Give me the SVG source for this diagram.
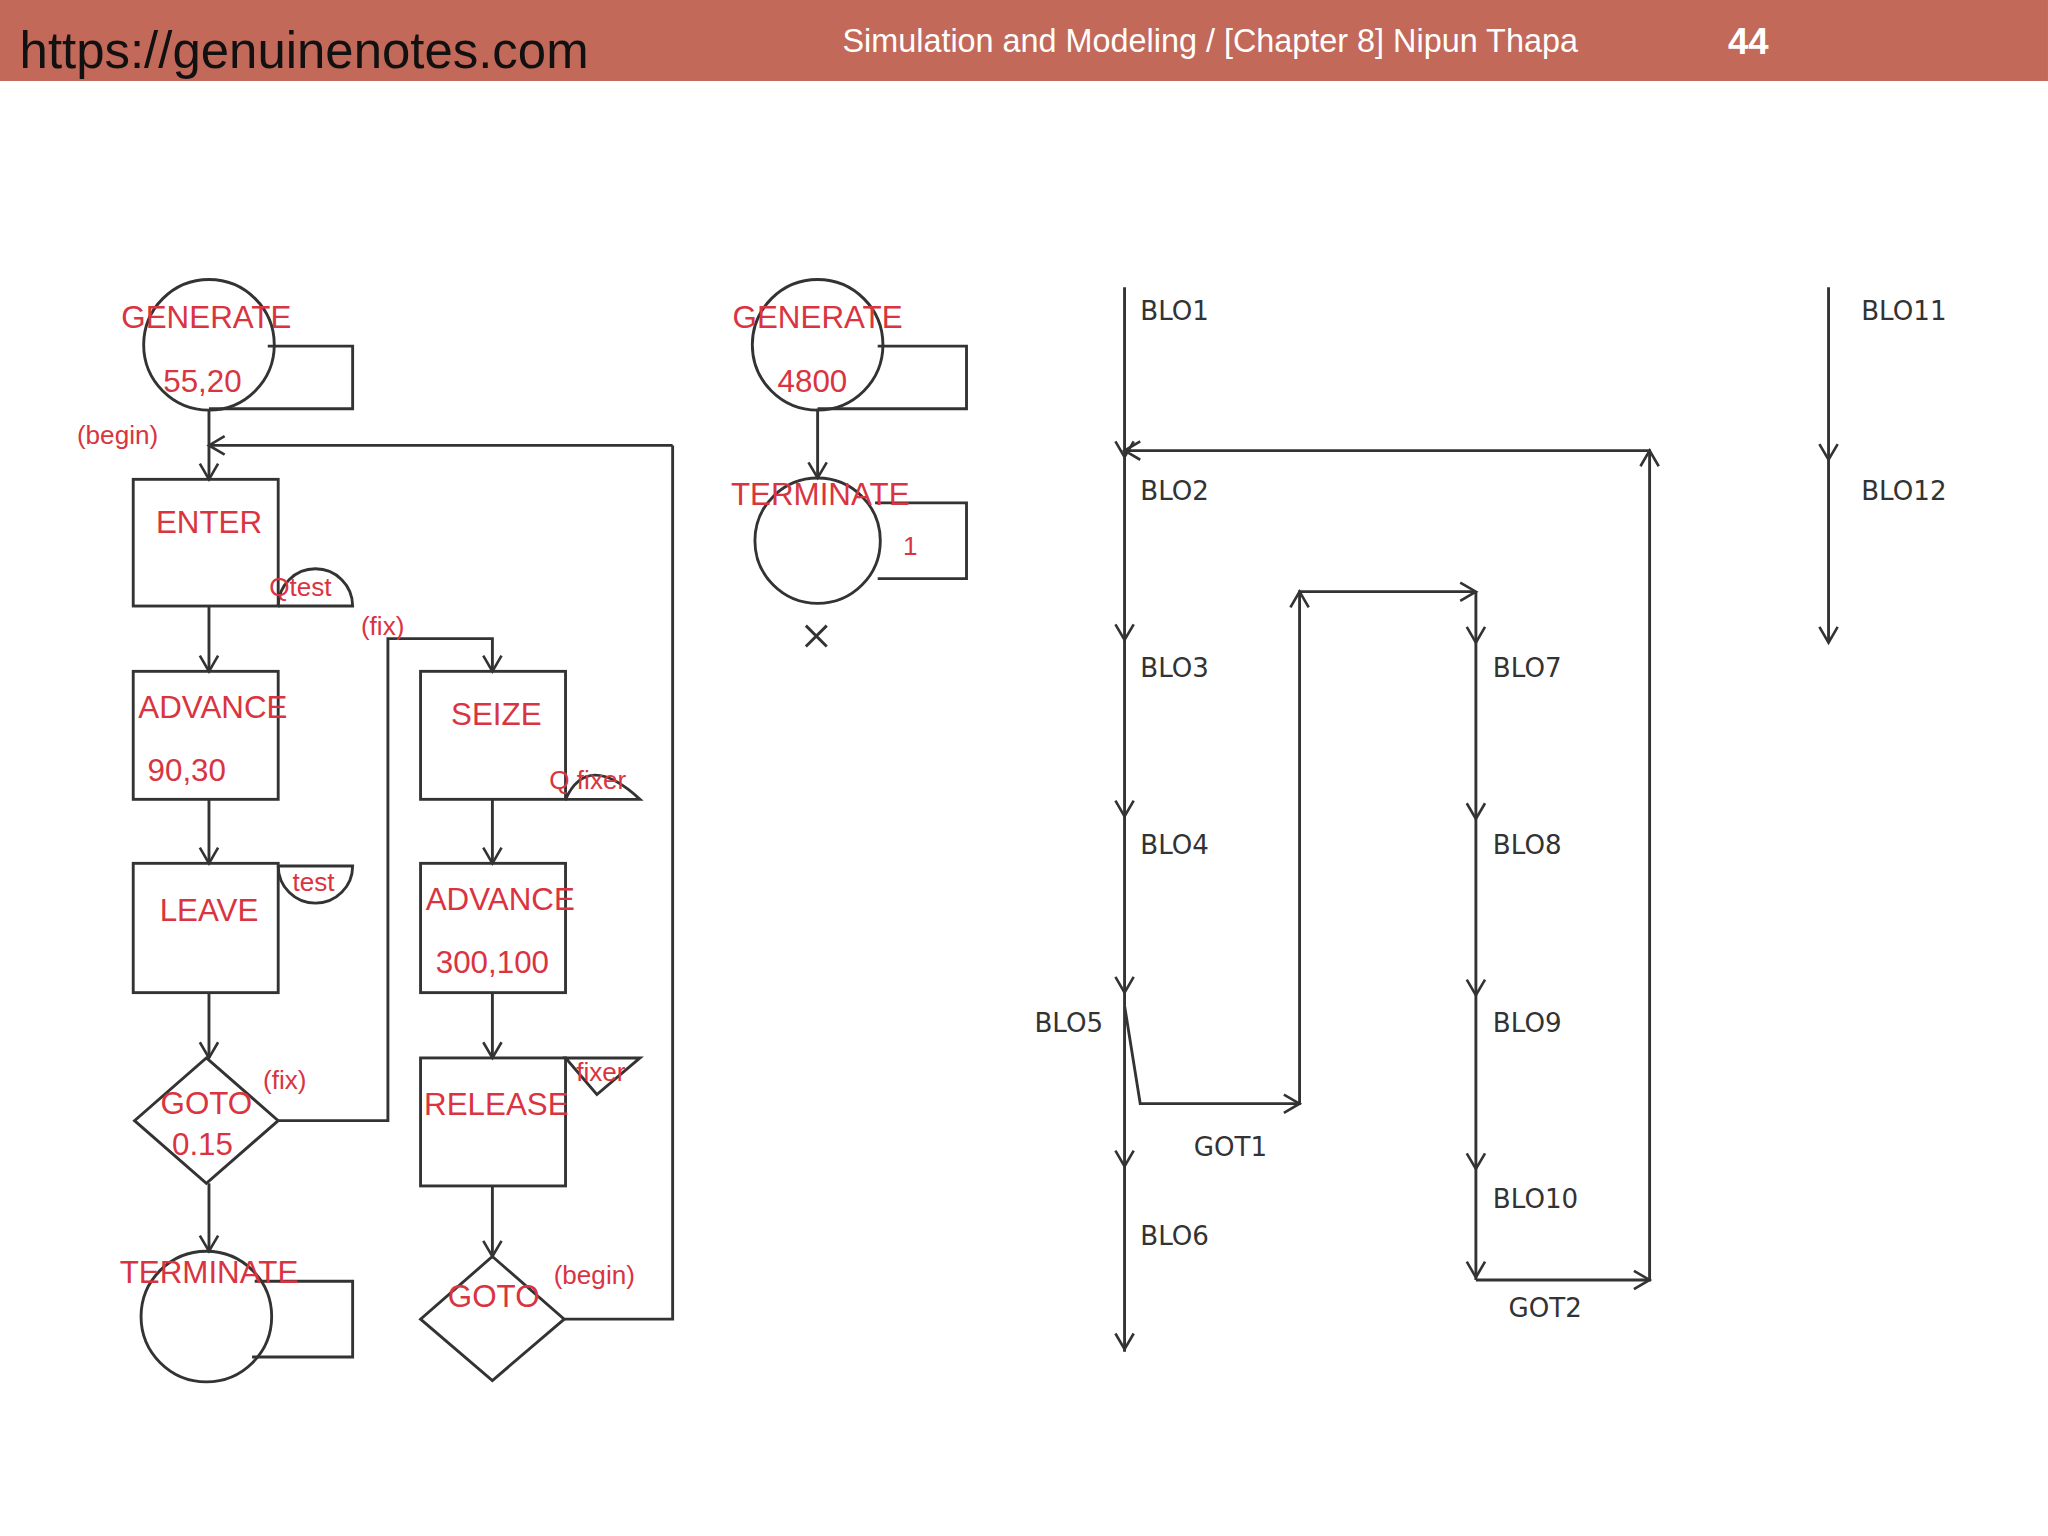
<svg xmlns="http://www.w3.org/2000/svg" xmlns:xlink="http://www.w3.org/1999/xlink" width="2048" height="1536" viewBox="0 0 2048 1536">
<style>
.s{fill:none;stroke:#333;stroke-width:2.2}
.r{fill:#d9343f;font-family:"Liberation Sans",Arial,sans-serif;font-size:24px;text-anchor:middle}
.rs{fill:#d9343f;font-family:"Liberation Sans",Arial,sans-serif;font-size:20px;text-anchor:middle}
.k{fill:#333;font-family:"DejaVu Sans",sans-serif;font-size:20px}
</style>
<defs><path id="ah" d="M-7,-12 L0,0 L7,-12" fill="none" stroke="#333" stroke-width="2"/></defs>
<rect width="2048" height="1536" fill="#fff"/>
<g transform="scale(1.3061)">
<g id="header">
<rect x="0" y="0" width="1568" height="62" fill="#c3695a"/>
<text x="15" y="52" font-family="Liberation Sans,Arial,sans-serif" font-size="39" fill="#111">https://genuinenotes.com</text>
<text x="645" y="40" font-family="Liberation Sans,Arial,sans-serif" font-size="24.8" fill="#fff">Simulation and Modeling / [Chapter 8] Nipun Thapa</text>
<text x="1323" y="41" font-family="Liberation Sans,Arial,sans-serif" font-size="28" font-weight="bold" fill="#fff">44</text>
</g>
<g id="connectors">
<path class="s" d="M160,314V367 M160,464V514 M160,612V661 M160,760V810 M160,906V958 M515,341H160 M515,341V1010H432 M213,858H297V489H377V514 M377,612V661 M377,760V810 M377,908V960 M626,313V366"/>
<use xlink:href="#ah" transform="translate(160,367)"/>
<use xlink:href="#ah" transform="translate(160,341) rotate(90)"/>
<use xlink:href="#ah" transform="translate(160,514)"/>
<use xlink:href="#ah" transform="translate(160,661)"/>
<use xlink:href="#ah" transform="translate(160,810)"/>
<use xlink:href="#ah" transform="translate(160,958)"/>
<use xlink:href="#ah" transform="translate(377,514)"/>
<use xlink:href="#ah" transform="translate(377,661)"/>
<use xlink:href="#ah" transform="translate(377,810)"/>
<use xlink:href="#ah" transform="translate(377,962)"/>
<use xlink:href="#ah" transform="translate(626,366)"/>
<path class="s" d="M861,220V1035 M861,345H1263V980H1130 M1130,453V980 M995,846V453H1130 M861,770L873,845H995 M1400,220V492"/>
<use xlink:href="#ah" transform="translate(861,350)"/>
<use xlink:href="#ah" transform="translate(861,345) rotate(90)"/>
<use xlink:href="#ah" transform="translate(861,490)"/>
<use xlink:href="#ah" transform="translate(861,625)"/>
<use xlink:href="#ah" transform="translate(861,760)"/>
<use xlink:href="#ah" transform="translate(861,893)"/>
<use xlink:href="#ah" transform="translate(861,1033)"/>
<use xlink:href="#ah" transform="translate(1263,345) rotate(180)"/>
<use xlink:href="#ah" transform="translate(1263,980) rotate(-90)"/>
<use xlink:href="#ah" transform="translate(1130,453) rotate(-90)"/>
<use xlink:href="#ah" transform="translate(995,453) rotate(180)"/>
<use xlink:href="#ah" transform="translate(995,845) rotate(-90)"/>
<use xlink:href="#ah" transform="translate(1130,492)"/>
<use xlink:href="#ah" transform="translate(1130,627)"/>
<use xlink:href="#ah" transform="translate(1130,762)"/>
<use xlink:href="#ah" transform="translate(1130,895)"/>
<use xlink:href="#ah" transform="translate(1130,978)"/>
<use xlink:href="#ah" transform="translate(1400,352)"/>
<use xlink:href="#ah" transform="translate(1400,492)"/>
</g>
<g id="generate1"><circle class="s" cx="160" cy="264" r="50"/><path class="s" d="M205,265H270V313H160"/><text class="r" x="158" y="251">GENERATE</text><text class="r" x="155" y="300">55,20</text><text class="rs" x="90" y="340">(begin)</text></g>
<g id="enter"><rect class="s" x="102" y="367" width="111" height="97"/><path class="s" d="M213,464A28,28 0 0 1 270,464H213"/><text class="r" x="160" y="408">ENTER</text><text class="rs" x="230" y="456">Qtest</text></g>
<g id="advance1"><rect class="s" x="102" y="514" width="111" height="98"/><text class="r" x="163" y="550">ADVANCE</text><text class="r" x="143" y="598">90,30</text></g>
<g id="leave"><rect class="s" x="102" y="661" width="111" height="99"/><path class="s" d="M213,663A28,28 0 0 0 270,663H213"/><text class="r" x="160" y="705">LEAVE</text><text class="rs" x="240" y="682">test</text></g>
<g id="goto1"><path class="s" d="M158,810L213,858L158,906L103,858Z"/><text class="r" x="158" y="853">GOTO</text><text class="r" x="155" y="884">0.15</text><text class="rs" x="218" y="834">(fix)</text><text class="rs" x="293" y="486">(fix)</text></g>
<g id="terminate1"><circle class="s" cx="158" cy="1008" r="50"/><path class="s" d="M195,981H270V1039H193"/><text class="r" x="160" y="982">TERMINATE</text></g>
<g id="seize"><rect class="s" x="322" y="514" width="111" height="98"/><path class="s" d="M433,612Q450,575 490,612H433"/><text class="r" x="380" y="555">SEIZE</text><text class="rs" x="450" y="604">Q fixer</text></g>
<g id="advance2"><rect class="s" x="322" y="661" width="111" height="99"/><text class="r" x="383" y="697">ADVANCE</text><text class="r" x="377" y="745">300,100</text></g>
<g id="release"><rect class="s" x="322" y="810" width="111" height="98"/><path class="s" d="M433,810H490L457,838Z"/><text class="r" x="380" y="854">RELEASE</text><text class="rs" x="460" y="828">fixer</text></g>
<g id="goto2"><path class="s" d="M377,962L432,1010L377,1057L322,1010Z"/><text class="r" x="378" y="1001">GOTO</text><text class="rs" x="455" y="983">(begin)</text></g>
<g id="generate2"><circle class="s" cx="626" cy="264" r="50"/><path class="s" d="M672,265H740V313H626"/><text class="r" x="626" y="251">GENERATE</text><text class="r" x="622" y="300">4800</text></g>
<g id="terminate2"><circle class="s" cx="626" cy="414" r="48"/><path class="s" d="M670,385H740V443H672"/><text class="r" x="628" y="387">TERMINATE</text><text class="rs" x="697" y="425">1</text><path class="s" d="M617,479L633,495M633,479L617,495"/></g>
<g id="labels">
<text class="k" x="873" y="245">BLO1</text><text class="k" x="873" y="383">BLO2</text><text class="k" x="873" y="518">BLO3</text><text class="k" x="873" y="654">BLO4</text><text class="k" x="792" y="790">BLO5</text><text class="k" x="873" y="953">BLO6</text><text class="k" x="914" y="885">GOT1</text>
<text class="k" x="1143" y="518">BLO7</text><text class="k" x="1143" y="654">BLO8</text><text class="k" x="1143" y="790">BLO9</text><text class="k" x="1143" y="925">BLO10</text><text class="k" x="1155" y="1008">GOT2</text>
<text class="k" x="1425" y="245">BLO11</text><text class="k" x="1425" y="383">BLO12</text>
</g>
</g>
</svg>
